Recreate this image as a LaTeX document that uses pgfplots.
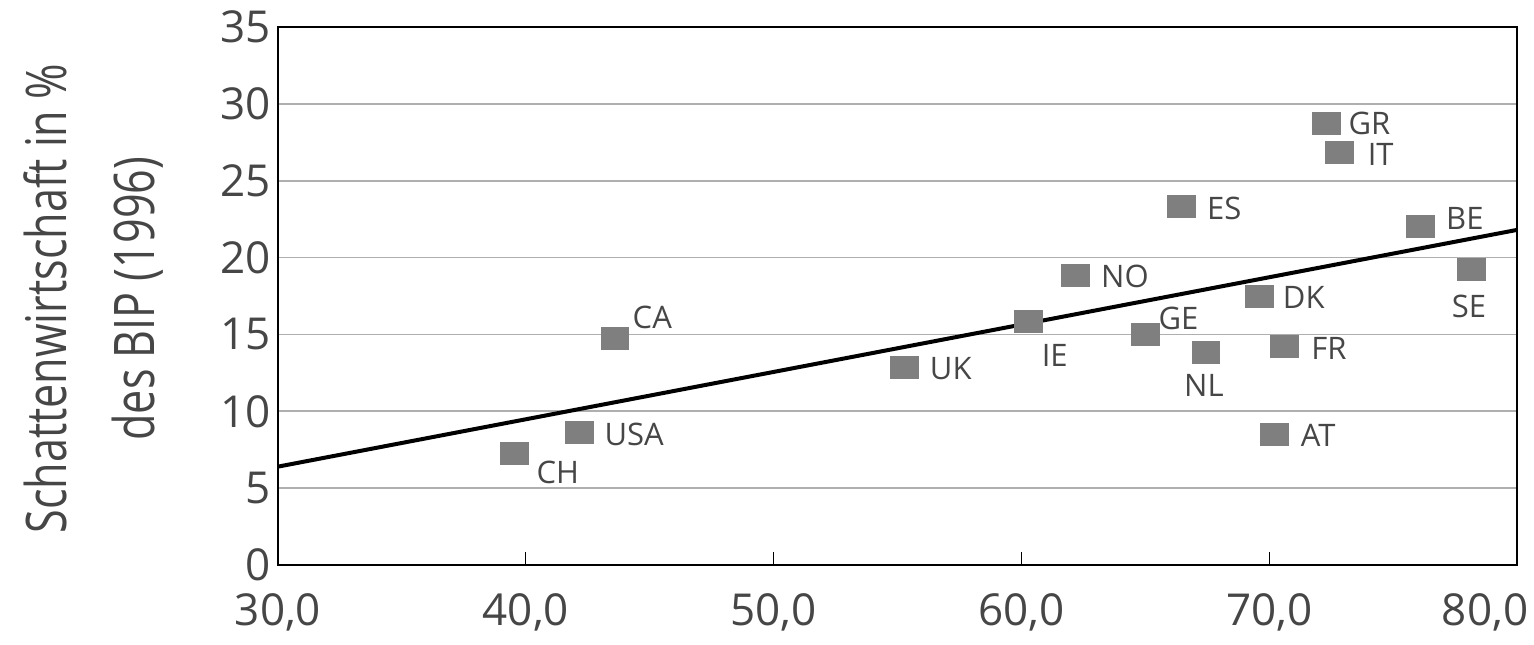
\documentclass[border=0pt]{standalone}
\usepackage{fontspec}
\setmainfont{Open Sans}
\newfontfamily\condfont[FakeStretch=0.77]{Open Sans}
\usepackage{pgfplots}
\pgfplotsset{compat=1.18}

\definecolor{txt}{RGB}{70,70,70}
\definecolor{gridgray}{RGB}{175,175,175}
\definecolor{markgray}{RGB}{127,127,127}

\begin{document}
\begin{tikzpicture}
\begin{axis}[
    scale only axis, width=619.5pt, height=269pt,
    xmin=30, xmax=80, ymin=0, ymax=35,
    xtick={30,40,50,60,70},
    xticklabels={30{,}0,40{,}0,50{,}0,60{,}0,70{,}0},
    extra x ticks={80}, extra x tick labels={80{,}0},
    extra x tick style={xticklabel style={xshift=-16pt}},
    ytick={0,5,...,35},
    ymajorgrids, grid style={gridgray, line width=0.8pt},
    ytick style={draw=none},
    xtick pos=bottom, tick align=inside,
    xtick style={black, line width=0.5pt},
    major tick length=6.5pt,
    axis line style={black, line width=1.3pt},
    tick label style={font=\fontsize{22}{26}\selectfont, text=txt},
    xticklabel style={yshift=-11pt},
    /pgf/number format/assume math mode=true,
    ylabel={Schattenwirtschaft in \%\\des BIP (1996)},
    ylabel style={font=\condfont\fontsize{28}{44}\selectfont, align=center, text=txt,
        at={(axis description cs:-0.149,0.495)}, anchor=center},
    clip=false,
]
\coordinate (sw) at (rel axis cs:0,0);

% Laender
\addplot[only marks, mark=square*, mark size=5.5pt,
    mark options={fill=markgray, draw=markgray, line width=0pt, xscale=1.27},
    nodes near coords, point meta=explicit symbolic,
    visualization depends on={value \thisrow{dx}\as\dx},
    visualization depends on={value \thisrow{dy}\as\dy},
    nodes near coords style={anchor=base west, inner sep=0pt,
        xshift=\dx pt, yshift=\dy pt, text=txt,
        font=\fontsize{15.5}{18}\selectfont}]
table[meta=lab] {
x     y     lab  dx    dy
39.55 7.25  CH   11    -14.75
42.15 8.65  USA  12.75 -6.65
43.6  14.75 CA   8.85  4.9
55.3  12.85 UK   12.5  -5.9
60.3  15.85 IE   6.5   -22.4
62.2  18.85 NO   12.6  -6
65.0  15.0  GE   6.6   2.6
66.45 23.3  ES   12.9  -6.1
67.45 13.85 NL   -10.9 -22.2
69.6  17.5  DK   11.8  -6.2
70.2  8.5   AT   13.4  -6.1
70.6  14.2  FR   13.6  -6.5
72.3  28.7  GR   11.2  -5.4
72.85 26.85 IT   14    -6.7
76.1  22.0  BE   12.9  -1.3
78.15 19.2  SE   -9.6  -23.6
};

% Trendlinie
\addplot[black, line width=2pt] coordinates {(30,6.4) (80,21.8)};
\end{axis}
\pgfresetboundingbox
\path[use as bounding box] (sw) ++(-139pt,-39.5pt) rectangle ++(767pt,322pt);
\end{tikzpicture}
\end{document}
